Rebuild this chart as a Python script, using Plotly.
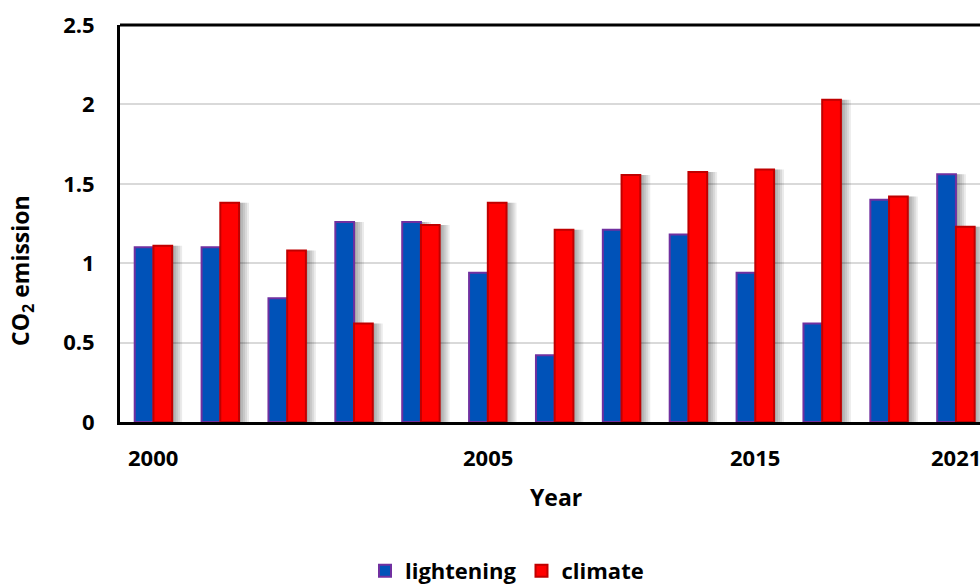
import plotly.graph_objects as go

# Data
positions = list(range(13))
lightening = [1.10, 1.10, 0.78, 1.26, 1.26, 0.94, 0.42, 1.21, 1.18, 0.94, 0.62, 1.40, 1.56]
climate = [1.11, 1.38, 1.08, 0.62, 1.24, 1.38, 1.21, 1.555, 1.575, 1.59, 2.03, 1.42, 1.23]
tick_positions = [0, 5, 9, 12]
tick_labels = ["2000", "2005", "2015", "2021"]
y_ticks = [0, 0.5, 1, 1.5, 2, 2.5]
y_tick_labels = ["0", "0.5", "1", "1.5", "2", "2.5"]

BAR_W = 0.28
PX = 1 / 67.0  # one pixel in x-axis units

FONT = dict(family="Open Sans", size=22, color="black", weight="bold")
TITLE_FONT = dict(family="Open Sans", size=23, color="black", weight="bold")

fig = go.Figure()

# soft drop shadows to the right of each bar
for k in range(1, 6):
    for vals, off in ((lightening, -BAR_W), (climate, 0.0)):
        fig.add_trace(go.Bar(
            x=positions, y=vals, offset=off + k * 2 * PX, width=BAR_W,
            marker=dict(color="rgba(0,0,0,0.08)", line=dict(width=0)),
            showlegend=False, hoverinfo="skip",
        ))

fig.add_trace(go.Bar(
    x=positions, y=lightening, name="lightening", offset=-BAR_W, width=BAR_W,
    marker=dict(color="#0052B8", line=dict(color="#7030A0", width=2)),
))
fig.add_trace(go.Bar(
    x=positions, y=climate, name="climate", offset=0.0, width=BAR_W,
    marker=dict(color="#FF0000", line=dict(color="#C00000", width=2)),
))

# year labels under the axis (the last one runs off the right edge)
year_labels = [
    dict(text=t, x=p, xref="x", yref="paper", y=-0.088, showarrow=False,
         font=FONT, xanchor="center", yanchor="middle")
    for p, t in zip(tick_positions, tick_labels)
]

fig.update_layout(
    width=980, height=585,
    barmode="overlay",
    plot_bgcolor="white", paper_bgcolor="white",
    margin=dict(l=120, r=0, t=25, b=163, autoexpand=False),
    font=FONT,
    legend=dict(
        orientation="h", x=0.45, y=-0.375, xanchor="center", yanchor="middle",
        font=FONT, itemwidth=30, traceorder="normal",
    ),
    xaxis=dict(
        range=[-0.5, 12.36],
        tickvals=tick_positions, showticklabels=False,
        showgrid=False, zeroline=False,
        showline=True, linecolor="black", linewidth=3,
        ticks="",
    ),
    yaxis=dict(
        range=[0, 2.5],
        tickvals=y_ticks, ticktext=y_tick_labels,
        showgrid=True, gridcolor="#D9D9D9", gridwidth=1.5,
        zeroline=False,
        showline=True, linecolor="black", linewidth=3,
        ticks="", ticklabelstandoff=18,
        tickfont=FONT,
    ),
    shapes=[dict(
        type="line", xref="paper", yref="paper", x0=0, x1=1.05, y0=1, y1=1,
        line=dict(color="black", width=3),
    )],
    annotations=year_labels + [
        dict(text="Year", xref="paper", yref="paper", x=0.507, y=-0.189,
             showarrow=False, font=TITLE_FONT, xanchor="center", yanchor="middle"),
        dict(text="CO<sub>2</sub> emission", xref="paper", yref="paper",
             x=-0.114, y=0.383, textangle=-90, showarrow=False, font=TITLE_FONT,
             xanchor="center", yanchor="middle"),
    ],
)

fig.write_html("out.html")
